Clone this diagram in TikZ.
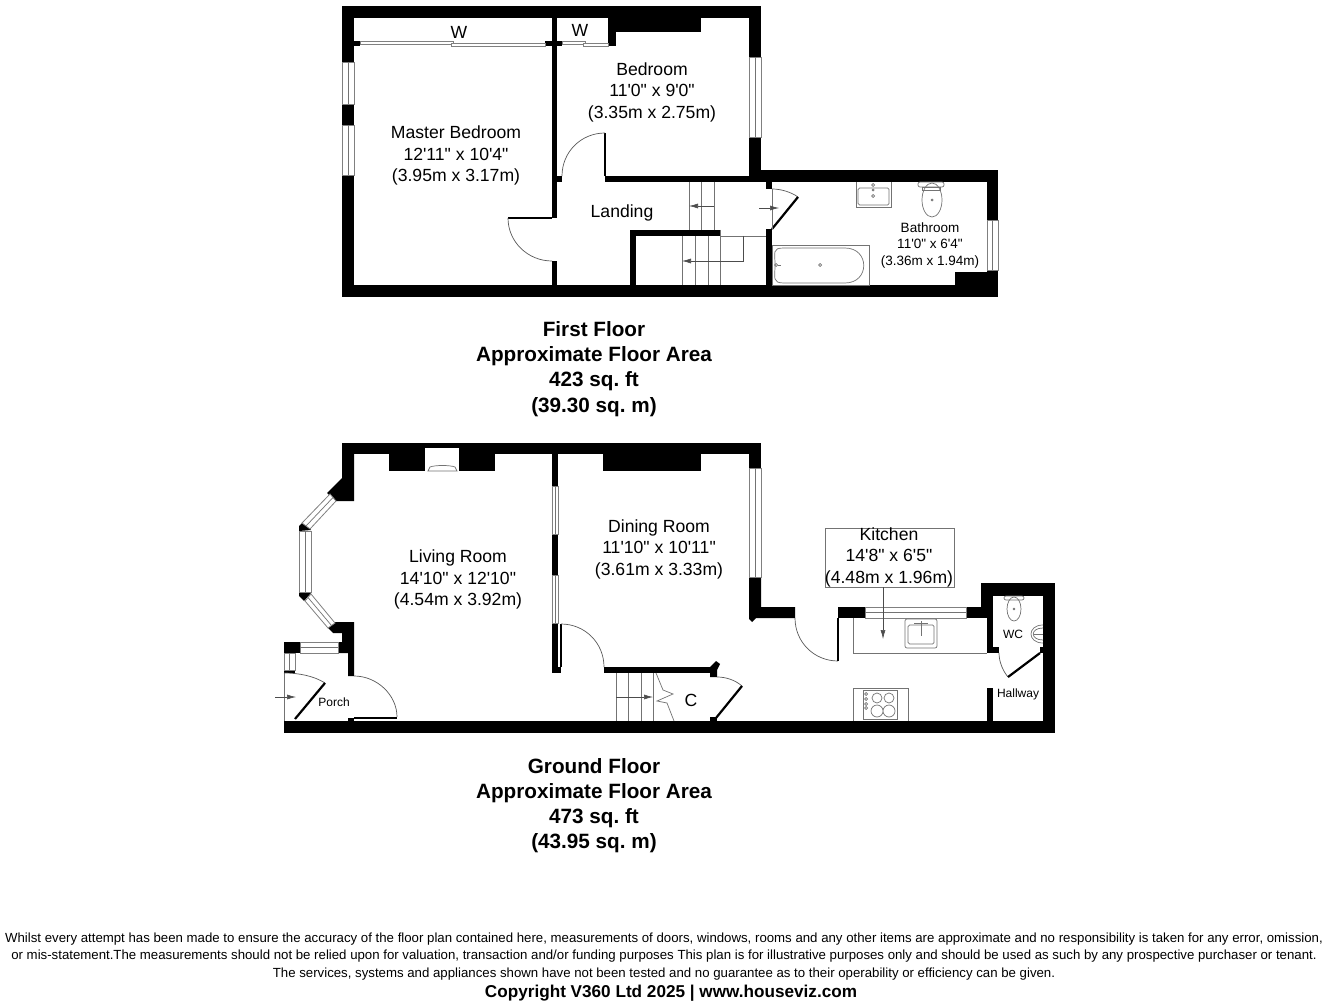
\documentclass[tikz,border=0pt]{standalone}
\usepackage{fontspec}
\usepackage{tikz}
\usetikzlibrary{arrows.meta, shapes.geometric}
\newfontfamily\planfont{Liberation Sans}
\frenchspacing

\begin{document}
\begin{tikzpicture}[
	x=1pt, y=-1pt,
	wall/.style={fill=black, draw=none},
	thinline/.style={draw=black!55, line width=0.7pt},
	pane/.style={draw=black!50, fill=white, line width=0.8pt},
	swing/.style={draw=black!65, line width=0.7pt},
	leaf/.style={draw=black, line width=1.4pt},
	doorleaf/.style={draw=black, line width=2.2pt},
	flow/.style={draw=black!70, line width=0.6pt, -{Latex[length=9pt,width=5pt]}},
	RoomLabel/.style={align=center, font=\planfont\fontsize{17.6}{21.5}\selectfont},
	SmallLabel/.style={align=center, font=\planfont\fontsize{12}{16.5}\selectfont},
	BathLabel/.style={align=center, font=\planfont\fontsize{13.5}{16.5}\selectfont},
	FloorLabel/.style={align=center, font=\planfont\bfseries\fontsize{20.7}{25.2}\selectfont},
	NoteLabel/.style={align=center, font=\planfont\fontsize{13.23}{17.5}\selectfont}
	]

\fill[white] (0,0) rectangle (1328,1008);
\useasboundingbox (0,0) rectangle (1328,1008);

% first floor walls
\fill[wall] (342,6) rectangle (761,18);
\fill[wall] (342,18) rectangle (354,62);
\fill[wall] (342,104) rectangle (354,125);
\fill[wall] (342,175) rectangle (354,297);
\fill[wall] (354,285) rectangle (998,297);
\fill[wall] (354,41) rectangle (360,46);
\fill[wall] (545,41) rectangle (562,46);
\fill[wall] (552,18) rectangle (557,218);
\fill[wall] (552,261) rectangle (557,285);
\fill[wall] (557,176) rectangle (562,182);
\fill[wall] (608,18) rectangle (616,46);
\fill[wall] (616,18) rectangle (701,32);
\fill[wall] (749,18) rectangle (761,57);
\fill[wall] (749,137) rectangle (761,182);
\fill[wall] (605,176) rectangle (772,182);
\fill[wall] (761,170) rectangle (998,182);
\fill[wall] (766,182) rectangle (772,189);
\fill[wall] (766,229) rectangle (772,285);
\fill[wall] (987,182) rectangle (998,220);
\fill[wall] (987,270) rectangle (998,285);
\fill[wall] (955,272) rectangle (987,285);
\fill[wall] (630,230) rectangle (720,236);
\fill[wall] (630,236) rectangle (636,285);

% first floor windows and sliding doors
\draw[pane] (342,62) rectangle (354,104);
\draw[thinline] (348,62) -- (348,104);
\draw[pane] (342,125) rectangle (354,175);
\draw[thinline] (348,125) -- (348,175);
\draw[pane] (749,57) rectangle (761,137);
\draw[thinline] (755,57) -- (755,137);
\draw[pane] (987,220) rectangle (998,270);
\draw[thinline] (992.5,220) -- (992.5,270);
\draw[pane] (360,41) rectangle (453,44);
\draw[pane] (451,43) rectangle (545,46);
\draw[pane] (562,41) rectangle (585,44);
\draw[pane] (583,43) rectangle (608,46);

% first floor doors
\draw[leaf] (552,218) -- (508,218);
\draw[swing] (508,218) .. controls (508,242) and (528,261) .. (552,261);
\draw[leaf] (605,176) -- (605,133);
\draw[swing] (562,176) .. controls (562,152) and (581,133) .. (605,133);
\draw[swing] (772,189) .. controls (781,189) and (791,192) .. (798,197);
\draw[doorleaf] (772,229) -- (798,197);
\draw[thinline] (772,189) -- (772,229);

% first floor stairs
\foreach \x in {689,701,714} \draw[thinline] (\x,182) -- (\x,230);
\draw[flow] (714,206) -- (689,206);
\foreach \x in {682,695,708,720} \draw[thinline] (\x,236) -- (\x,285);
\draw[thinline] (720,236) -- (766,236);
\draw[flow] (743,236) -- (743,261) -- (682,261);
\draw[thinline] (720,230) -- (720,236);

% bathroom fittings
\draw[flow] (759,208) -- (779,208);
\draw[thinline] (772,245) rectangle (869,285);
\draw[thinline] (784,248) -- (845,248) .. controls (870,248) and (870,283) .. (845,283) -- (784,283) .. controls (772,283) and (775,278) .. (775,265) .. controls (775,252) and (772,248) .. (784,248);
\draw[thinline] (776,265) circle (1.5) (820,265) circle (1.5);
\draw[thinline] (778,265) -- (781,265);
\draw[thinline] (856,182) -- (856,207) -- (891,207) -- (891,182);
\draw[thinline, rounded corners=1.5pt] (858,188) rectangle (889,205);
\draw[thinline] (873,185) circle (1.5) (873,190) circle (1) (873,196) circle (1.5);
\draw[thinline, rounded corners=2pt] (918,182) rectangle (944,187);
\draw[thinline] (922,187) rectangle (940,190);
\draw[thinline] (932,200) ellipse (10 and 17);
\draw[thinline] (932,200) circle (1);

% ground floor walls
\fill[wall] (342,443) rectangle (761,448);
\fill[wall] (342,448) rectangle (425,454);
\fill[wall] (459,448) rectangle (761,454);
\fill[wall] (389,454) rectangle (425,471);
\fill[wall] (459,454) rectangle (495,471);
\fill[wall] (603,454) rectangle (701,471);
\fill[wall] (342,454) -- (342,478) -- (327,493) -- (335,501) -- (354,501) -- (354,454) -- cycle;
\fill[wall] (299,526) -- (303,522) -- (311,530) -- (299,531) -- cycle;
\fill[wall] (299,592) -- (311,593) -- (304,601) -- (299,596) -- cycle;
\fill[wall] (328,628) -- (335,622) -- (354,622) -- (354,676) -- (348,676) -- (348,653) -- (338,653) -- (338,642) -- (342,642) -- (342,633) -- (333,633) -- cycle;
\fill[wall] (284,642) rectangle (300,653);
\fill[wall] (284,670) rectangle (295,673);
\fill[wall] (284,721) rectangle (1055,733);
\fill[wall] (348,718) rectangle (354,721);
\fill[wall] (552,454) rectangle (558,486);
\fill[wall] (552,534) rectangle (558,575);
\fill[wall] (552,623) rectangle (558,673);
\fill[wall] (558,667) rectangle (561,673);
\fill[wall] (604,667) rectangle (710,673);
\fill[wall] (710,667) -- (716,661) -- (720,664) -- (717,670) -- (717,677) -- (710,677) -- cycle;
\fill[wall] (710,717) rectangle (717,721);
\fill[wall] (749,454) rectangle (761,468);
\fill[wall] (749,577) -- (761,577) -- (761,607) -- (795,607) -- (795,618) -- (756,618) -- (752,622) -- (749,619) -- cycle;
\fill[wall] (838,607) rectangle (865,618);
\fill[wall] (966,607) rectangle (987,618);
\fill[wall] (981,583) rectangle (1055,596);
\fill[wall] (981,596) rectangle (993,607);
\fill[wall] (987,607) rectangle (993,647);
\fill[wall] (987,647) rectangle (999,653);
\fill[wall] (1043,596) rectangle (1055,721);
\fill[wall] (1040,647) rectangle (1043,653);
\fill[wall] (987,688) rectangle (993,721);

% ground floor windows
\draw[pane] (330,494) -- (336,501) -- (310,529) -- (302,523) -- cycle;
\draw[thinline] (333,497.5) -- (306,526);
\draw[pane] (299,531) rectangle (311,592);
\draw[thinline] (305,531) -- (305,592);
\draw[pane] (305,601) -- (311,594) -- (335,623) -- (328,628) -- cycle;
\draw[thinline] (308,597.5) -- (331.5,625.5);
\draw[pane] (300,642) rectangle (338,653);
\draw[thinline] (300,647.5) -- (338,647.5);
\draw[pane] (284,653) rectangle (295,670);
\draw[thinline] (289.5,653) -- (289.5,670);
\draw[pane] (552,486) rectangle (558,534);
\draw[thinline] (555,486) -- (555,534);
\draw[pane] (552,575) rectangle (558,623);
\draw[thinline] (555,575) -- (555,623);
\draw[pane] (749,468) rectangle (761,577);
\draw[thinline] (755,468) -- (755,577);
\draw[pane] (865,607) rectangle (966,618);
\draw[thinline] (865,612.5) -- (966,612.5);
\draw[thinline] (284,673) -- (284,721);

% ground floor doors
\draw[swing] (284,673) .. controls (299,673) and (314,676) .. (325,683);
\draw[doorleaf] (325,683) -- (295,719);
\draw[flow] (275,697) -- (296,697);
\draw[swing] (354,676) .. controls (377,676) and (397,695) .. (397,717);
\draw[leaf] (354,718) -- (397,718);
\draw[leaf] (561,624) -- (561,667);
\draw[swing] (561,624) .. controls (585,624) and (604,643) .. (604,667);
\draw[swing] (717,677) .. controls (726,677) and (735,680) .. (742,686);
\draw[doorleaf] (742,686) -- (716,718);
\draw[swing] (795,618) .. controls (795,642) and (814,661) .. (838,661);
\draw[leaf] (838,618) -- (838,661);
\draw[swing] (999,653) .. controls (999,662) and (1003,671) .. (1008,677);
\draw[doorleaf] (1040,653) -- (1008,677);

% ground floor stairs
\foreach \x in {616,628,641,653} \draw[thinline] (\x,673) -- (\x,721);
\draw[flow] (616,697) -- (653,697);
\draw[thinline] (656,673) -- (663,690) -- (673,694) -- (657,701) -- (667,703) -- (674,721);

% fireplace
\draw[thinline] (428,471) -- (430,467) .. controls (435,465) and (450,465) .. (455,467) -- (457,471) -- cycle;

% kitchen fittings
\draw[thinline] (853,618) -- (853,653) -- (987,653);
\draw[thinline] (825,528) rectangle (954,587);
\draw[flow] (883,587) -- (883,639);
\draw[thinline, rounded corners=2pt] (905,619) rectangle (937,648);
\draw[thinline, rounded corners=1.5pt] (908,625) rectangle (934,644);
\draw[thinline] (914,623) -- (928,623);
\draw[thinline] (921,621) -- (921,636);
\draw[thinline] (853,721) -- (853,688) -- (908,688) -- (908,721);
\draw[thinline] (863,690) rectangle (897,719);
\draw[thinline] (877,698) circle (5) (889,698) circle (5) (877,711) circle (6) (889,711) circle (6);
\foreach \y in {694,699,704,708} \draw[thinline] (866,\y) circle (1.5);

% wc fittings
\draw[thinline, rounded corners=2pt] (1004,596) rectangle (1024,600);
\draw[thinline] (1014,609) ellipse (7 and 12);
\draw[thinline] (1014,609) circle (0.8);
\draw[thinline] (1043,625) .. controls (1027,625) and (1027,643) .. (1043,643);
\draw[thinline] (1043,628) .. controls (1030,628) and (1030,640) .. (1043,640);
\draw[thinline] (1034,634) -- (1043,634);

% labels
\node [RoomLabel] (masterbed) at (456,155.5) {Master Bedroom\\12'11" x 10'4"\\(3.95m x 3.17m)};
\node [RoomLabel] (bedroom) at (652,92) {Bedroom\\11'0" x 9'0"\\(3.35m x 2.75m)};
\node [RoomLabel] (landing) at (622,213) {Landing};
\node [RoomLabel] (wardrobea) at (459,32) {W};
\node [RoomLabel] (wardrobeb) at (580,30) {W};
\node [BathLabel] (bathroom) at (930,245.5) {Bathroom\\11'0" x 6'4"\\(3.36m x 1.94m)};
\node [RoomLabel] (living) at (458,579.5) {Living Room\\14'10" x 12'10"\\(4.54m x 3.92m)};
\node [RoomLabel] (dining) at (659,549) {Dining Room\\11'10" x 10'11"\\(3.61m x 3.33m)};
\node [RoomLabel] (kitchen) at (889,557) {Kitchen\\14'8" x 6'5"\\(4.48m x 1.96m)};
\node [SmallLabel] (porch) at (334,702) {Porch};
\node [RoomLabel] (cupboard) at (691,700) {C};
\node [SmallLabel] (wc) at (1013,634) {WC};
\node [SmallLabel] (hallway) at (1018,694) {Hallway};

\node [FloorLabel] (firstfloor) at (594,369) {First Floor\\Approximate Floor Area\\423 sq. ft\\(39.30 sq. m)};
\node [FloorLabel] (groundfloor) at (594,805.5) {Ground Floor\\Approximate Floor Area\\473 sq. ft\\(43.95 sq. m)};

\node [NoteLabel] (disclaimer) at (664,956.5) {Whilst every attempt has been made to ensure the accuracy of the floor plan contained here, measurements of doors, windows, rooms and any other items are approximate and no responsibility is taken for any error, omission,\\or mis-statement.The measurements should not be relied upon for valuation, transaction and/or funding purposes This plan is for illustrative purposes only and should be used as such by any prospective purchaser or tenant.\\The services, systems and appliances shown have not been tested and no guarantee as to their operability or efficiency can be given.};
\node [font=\planfont\bfseries\fontsize{17.15}{20}\selectfont] (copyright) at (671,993) {Copyright V360 Ltd 2025 | www.houseviz.com};

\end{tikzpicture}
\end{document}
